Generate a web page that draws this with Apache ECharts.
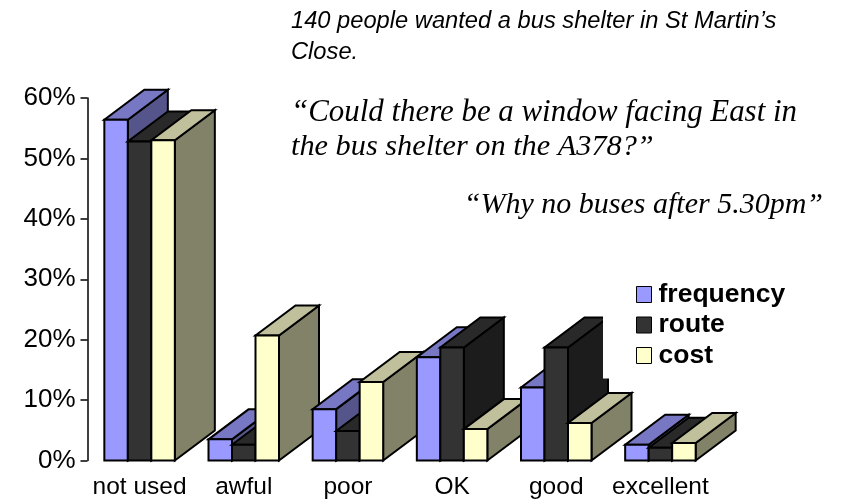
<!DOCTYPE html>
<html><head><meta charset="utf-8">
<style>html,body{margin:0;padding:0;background:#fff}#c{width:845px;height:499px}</style>
<script src="https://cdn.jsdelivr.net/npm/echarts@6/dist/echarts.min.js"></script>
</head><body><div id="c"></div>
<script>
const categories = ['not used','awful','poor','OK','good','excellent'];
const frequency = [56.4,3.5,8.5,17.1,12.1,2.6];
const route = [52.8,2.6,4.9,18.7,18.7,2.1];
const cost = [53,20.7,13,5.2,6.2,2.9];
const yTicks = {min:0,max:60,interval:10};

const FONT='"Liberation Sans",Arial,sans-serif', SCRIPT='"Liberation Serif",serif';
const DX=40, DY=-30, BAR=0.2256;
const palette=[
 {name:'frequency',front:'#9999FF',top:'#7777C4',side:'#55558C'},
 {name:'route',front:'#333333',top:'#292929',side:'#1C1C1C'},
 {name:'cost',front:'#FFFFCC',top:'#C0C09C',side:'#828268'}
];
function bar3d(si){
 return function(params,api){
  const cat=api.value(0), base=api.coord([cat,0]), top=api.coord([cat,api.value(1)]);
  const w=api.size([1,0])[0]*BAR, x0=base[0]+(si-1.5)*w, x1=x0+w, y0=base[1], y1=top[1];
  const p=palette[si], z=cat*3+si, st=c=>({fill:c,stroke:'#000',lineWidth:2,lineJoin:'miter'});
  const poly=(pts,c,k)=>({type:'polygon',z2:z*3+k,shape:{points:pts},style:st(c)});
  return {type:'group',children:[
   poly([[x1,y0],[x1+DX,y0+DY],[x1+DX,y1+DY],[x1,y1]],p.side,0),
   poly([[x0,y1],[x1,y1],[x1+DX,y1+DY],[x0+DX,y1+DY]],p.top,1),
   poly([[x0,y0],[x1,y0],[x1,y1],[x0,y1]],p.front,2)
  ]};
 };
}
const seriesValues=[frequency,route,cost];
const txt=(x,y,text,font,size,style,align)=>({type:'text',x,y,z:10,style:{text,fill:'#000',font:`${style} ${size}px ${font}`,textAlign:align||'left'}});
const chart=echarts.init(document.getElementById('c'),null,{renderer:'canvas'});
chart.setOption({
 animation:false,backgroundColor:'#fff',
 grid:{left:87.5,top:98,width:625,height:362.5,containLabel:false,outerBoundsMode:'none'},
 xAxis:{type:'category',data:categories,axisLine:{show:false},axisTick:{show:false},splitLine:{show:false},
  axisLabel:{color:'#000',fontFamily:FONT,fontSize:24.5,margin:14,interval:0}},
 yAxis:{type:'value',min:yTicks.min,max:yTicks.max,interval:yTicks.interval,splitLine:{show:false},
  axisLine:{show:true,lineStyle:{color:'#000',width:1.5}},
  axisTick:{show:true,length:7,lineStyle:{color:'#000',width:1.5}},
  axisLabel:{color:'#000',fontFamily:FONT,fontSize:26,margin:12,formatter:'{value}%',verticalAlign:'middle'}},
 legend:{orient:'vertical',left:603,top:277,itemWidth:15,itemHeight:16,itemGap:3.5,icon:'rect',
  padding:[4,10,9.5,33],backgroundColor:'#fff',z:5,
  itemStyle:{borderColor:'#000',borderWidth:1},
  textStyle:{color:'#000',fontFamily:FONT,fontWeight:'bold',fontSize:26.5,padding:[0,0,0,2]},
  data:palette.map(p=>p.name)},
 series:palette.map((p,i)=>({type:'custom',name:p.name,z:2,clip:false,
  itemStyle:{color:p.front},
  encode:{x:0,y:1},
  data:seriesValues[i].map((v,j)=>[categories[j],v]),
  renderItem:bar3d(i)})),
 graphic:[
  txt(291,9,'140 people wanted a bus shelter in St Martin’s',FONT,23.7,'italic'),
  txt(291,40,'Close.',FONT,23.7,'italic'),
  txt(291,97,'“Could there be a window facing East in',SCRIPT,30.9,'italic'),
  txt(291,132,'the bus shelter on the A378?”',SCRIPT,30.3,'italic'),
  txt(823,190,'“Why no buses after 5.30pm”',SCRIPT,30,'italic','right')
 ]
});
</script></body></html>
